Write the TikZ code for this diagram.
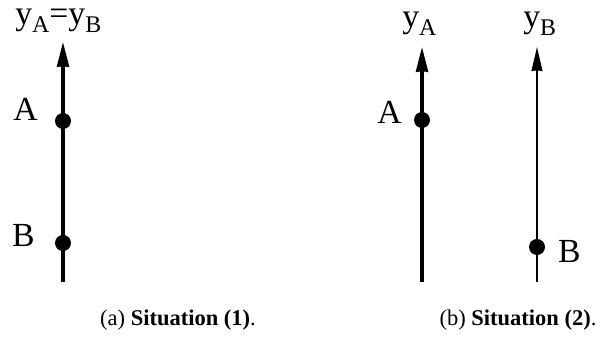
\documentclass[tikz,border=0pt]{standalone}
\usepackage{fontspec}
\setmainfont{Liberation Serif}
\usetikzlibrary{positioning,arrows.meta}

\newcommand{\lowsub}[1]{\raisebox{-5pt}{\fontsize{17}{17}\selectfont #1}}

\begin{document}
\begin{tikzpicture}[x=0.025cm, y=-0.025cm,
    axis/.style={line width=2.2pt, -{Stealth[length=0.62cm, width=0.3cm, inset=0.5pt]}},
    thinaxis/.style={line width=1.4pt, -{Stealth[length=0.6cm, width=0.27cm, inset=0.5pt]}},
    pt/.style={circle, fill=black, inner sep=0pt, minimum size=0.4cm},
    lbl/.style={font=\fontsize{24}{26}\selectfont, inner sep=0pt},
    capt/.style={font=\fontsize{16}{18}\selectfont, inner sep=0pt}
]
\useasboundingbox (0,0) rectangle (601,340);

% situation (1)
\coordinate (lbot) at (63,282);
\coordinate (ltop) at (63,42);
\draw[axis] (lbot) -- (ltop);
\node[pt] (a1) at (63,121) {};
\node[pt] (b1) at (63,243) {};
\node[lbl, left=0.625cm of a1.center, anchor=base east] (la1) {A};
\node[lbl, below left=0.1cm and 0.7cm of b1.center, anchor=base east] (lb1) {B};
\node[lbl, anchor=base west] (ylab) at (15,25) {y\lowsub{A}=y\lowsub{B}};
\node[capt] (cap1) at (178,320) {(a) \textbf{Situation (1)}.};

% situation (2)
\coordinate (abot) at (422,282);
\coordinate (atop) at (422,47);
\coordinate (bbot) at (537,282);
\coordinate (btop) at (537,47);
\draw[axis] (abot) -- (atop);
\draw[thinaxis] (bbot) -- (btop);
\node[pt] (a2) at (422,120) {};
\node[pt] (b2) at (537,247) {};
\node[lbl, below left=0.1cm and 0.5cm of a2.center, anchor=base east] (la2) {A};
\node[lbl, below right=0.38cm and 0.52cm of b2.center, anchor=base west] (lb2) {B};
\node[lbl, anchor=base west] (yA) at (402,28) {y\lowsub{A}};
\node[lbl, anchor=base west] (yB) at (523,28) {y\lowsub{B}};
\node[capt] (cap2) at (518,320) {(b) \textbf{Situation (2)}.};

\end{tikzpicture}
\end{document}
